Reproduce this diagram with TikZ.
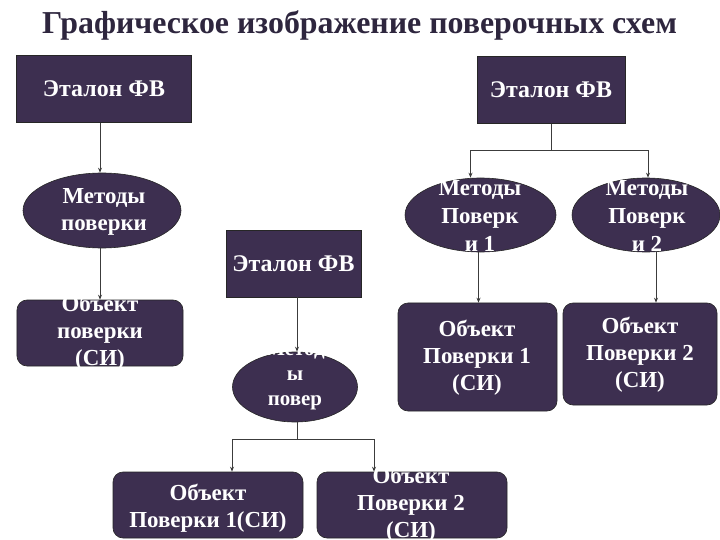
\documentclass[tikz,border=0pt]{standalone}
\usepackage{fontspec}
\setmainfont{Liberation Serif}
\usetikzlibrary{shapes.geometric,arrows.meta}
\definecolor{boxfill}{RGB}{61,47,80}
\definecolor{titlecol}{RGB}{46,38,62}
\definecolor{linecol}{RGB}{60,60,60}
\tikzset{
  base/.style={draw=black!85, line width=0.6bp, fill=boxfill, inner sep=0pt},
  etalon/.style={base, rectangle, minimum height=67bp},
  objbox/.style={base, rectangle, rounded corners=10bp},
  meth/.style={base, ellipse},
  txt/.style={text=white, align=center, inner sep=0pt, font=\bfseries\fontsize{23}{27}\selectfont},
  etxt/.style={text=white, align=center, inner sep=0pt, font=\bfseries\fontsize{24}{28}\selectfont},
  arr/.style={draw=linecol, line width=0.8bp, -{Stealth[length=5bp,width=4bp]}},
  ln/.style={draw=linecol, line width=0.8bp},
}
\begin{document}
\begin{tikzpicture}[x=1bp,y=-1bp]
\useasboundingbox (0,0) rectangle (720,540);
\node[font=\bfseries\fontsize{32}{36}\selectfont, text=titlecol, anchor=base, inner sep=0pt] (title) at (359.5,34) {Графическое изображение поверочных схем};
% shapes
\node[etalon, minimum width=175bp] (b1) at (104,89) {};
\node[meth, minimum width=158bp, minimum height=75bp] (e1) at (102,210.5) {};
\node[objbox, minimum width=166bp, minimum height=66bp] (o1) at (100,333) {};
\node[etalon, minimum width=148bp] (b2) at (551,90) {};
\node[meth, minimum width=151bp, minimum height=74bp] (e2) at (480.5,215) {};
\node[meth, minimum width=148bp, minimum height=74bp] (e3) at (646,215) {};
\node[objbox, minimum width=159bp, minimum height=108bp] (o2) at (477.5,357) {};
\node[objbox, minimum width=154bp, minimum height=102bp] (o3) at (640,354) {};
\node[etalon, minimum width=135bp] (b3) at (293.5,263.5) {};
\node[meth, minimum width=125bp, minimum height=70bp] (e4) at (295,387) {};
\node[objbox, minimum width=190bp, minimum height=66bp] (o4) at (208,505) {};
\node[objbox, minimum width=190bp, minimum height=66bp] (o5) at (412,505) {};
% texts
\node[etxt] (b1t) at (b1) {Эталон ФВ};
\node[etxt] (b2t) at (b2) {Эталон ФВ};
\node[etxt] (b3t) at (b3) {Эталон ФВ};
\node[txt] (e1t) at (104,212) {Методы\\поверки};
\node[txt] (o1t) at (100,333) {Объект\\поверки\\(СИ)};
\node[txt, font=\bfseries\fontsize{23}{28}\selectfont] (e2t) at (480,216) {Методы\\Поверк\\и 1};
\node[txt, font=\bfseries\fontsize{23}{28}\selectfont] (e3t) at (647,216) {Методы\\Поверк\\и 2};
\node[txt] (o2t) at (477,358) {Объект\\Поверки 1\\(СИ)};
\node[txt] (o3t) at (640,355) {Объект\\Поверки 2\\(СИ)};
\node[txt, font=\bfseries\fontsize{21}{25}\selectfont] (e4t) at (295,376) {Метод\\ы\\повер};
\node[txt] (o4t) at (208,508) {Объект\\Поверки 1(СИ)};
\node[txt] (o5t) at (411,505) {Объект\\Поверки 2\\(СИ)};
% connectors
\coordinate (j2) at (551,150);
\coordinate (j4) at (297,439);
\draw[arr] (b1.south -| 100,0) -- (e1.north -| 100,0);
\draw[arr] (e1.south -| 100,0) -- (o1.north -| 100,0);
\draw[ln] (b2.south) -- (j2);
\draw[arr] (j2) -| ([xshift=-10bp]e2.north);
\draw[arr] (j2) -| ([xshift=2bp]e3.north);
\draw[arr] ([xshift=-2bp]e2.south) -- ([xshift=-2bp]e2.south |- o2.north);
\draw[arr] ([xshift=10bp]e3.south) -- ([xshift=10bp]e3.south |- o3.north);
\draw[arr] (b3.south -| j4) -- (e4.north -| j4);
\draw[ln] (e4.south -| j4) -- (j4);
\draw[arr] (j4) -| ([xshift=24bp]o4.north);
\draw[arr] (j4) -| ([xshift=-38bp]o5.north);
\end{tikzpicture}
\end{document}
